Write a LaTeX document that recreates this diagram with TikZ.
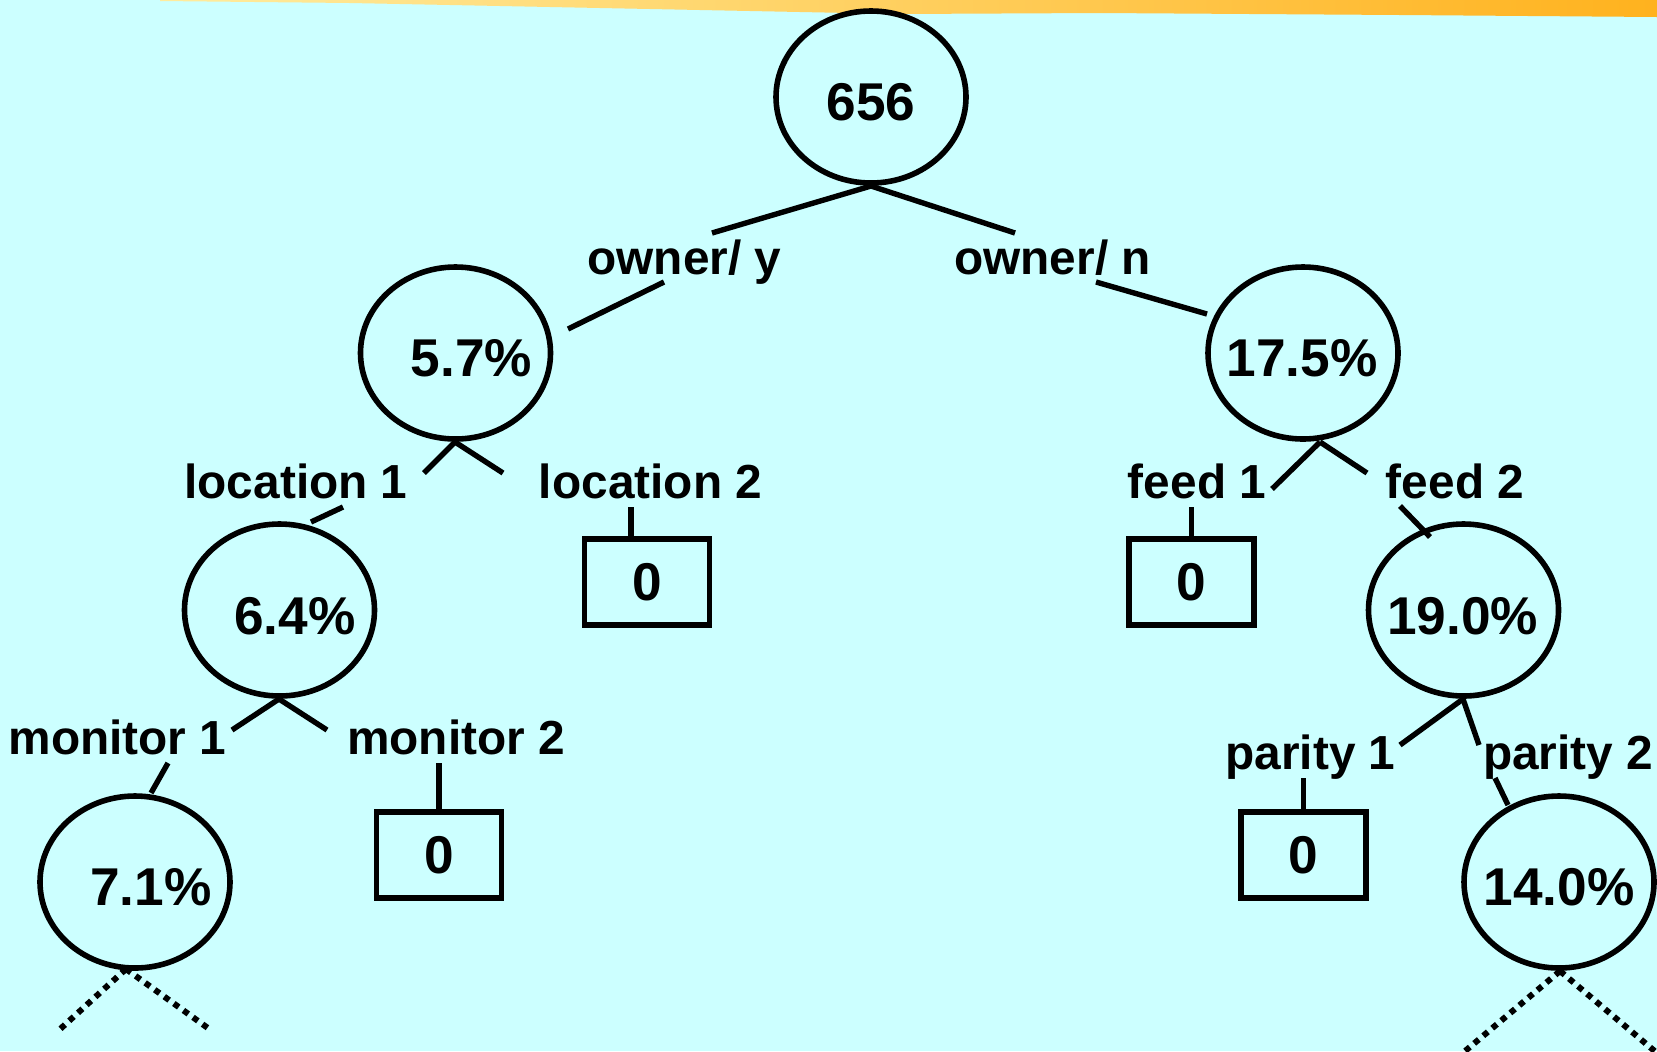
\documentclass[tikz,border=0pt]{standalone}
\usepackage{fontspec}
\setmainfont{Liberation Sans}
\usetikzlibrary{shapes.geometric}
\definecolor{bg}{HTML}{CCFFFF}
\definecolor{bandA}{HTML}{FFEC9E}
\definecolor{bandB}{HTML}{FFCC33}
\definecolor{bandC}{HTML}{FFB21E}
\begin{document}
\begin{tikzpicture}[x=0.5pt,y=-0.5pt,
  ell/.style={draw, ellipse, line width=2.8pt, minimum width=95pt, minimum height=86pt, inner sep=0pt, outer sep=0pt},
  leaf/.style={draw, rectangle, line width=2.8pt, minimum width=62.5pt, minimum height=43pt, inner sep=0pt, outer sep=0pt, font=\fontsize{26.6pt}{30pt}\selectfont\bfseries},
  val/.style={anchor=base, inner sep=0pt, font=\fontsize{26.6pt}{30pt}\selectfont\bfseries},
  lbl/.style={anchor=base, inner sep=0pt, font=\fontsize{23.9pt}{28pt}\selectfont\bfseries},
  edge/.style={line width=2.7pt, line cap=butt},
  dots/.style={line width=3pt, line cap=butt, dash pattern=on 3pt off 2.9pt}
]
\useasboundingbox (0,0) rectangle (1657,1051);
\fill[bg] (0,0) rectangle (1657,1051);
\shade[left color=bandA, middle color=bandB, right color=bandC]
  (160,0) -- (1657,0) -- (1657,17) -- (1400,15) -- (1100,13) -- (900,14) -- (700,10) -- (500,6) -- (350,3) -- (160,1) -- cycle;

% ellipses
\node[ell] (e656) at (871,97) {};
\node[ell] (e57) at (455.5,353) {};
\node[ell] (e175) at (1303,353) {};
\node[ell] (e64) at (279.5,610) {};
\node[ell] (e190) at (1463.5,610) {};
\node[ell] (e71) at (135,882) {};
\node[ell] (e140) at (1559,882) {};

% values
\node[val] (t656) at (871,120.5) {656};
\node[val] (t57) at (471.5,376.5) {5.7\%};
\node[val] (t175) at (1302,376.5) {17.5\%};
\node[val] (t64) at (295,634) {6.4\%};
\node[val] (t190) at (1462.5,634) {19.0\%};
\node[val] (t71) at (151,905.5) {7.1\%};
\node[val] (t140) at (1559,905.5) {14.0\%};

% leaf boxes
\node[leaf] (bl2) at (647,582) {0};
\node[leaf] (bf1) at (1191.5,582) {0};
\node[leaf] (bm2) at (439,855) {0};
\node[leaf] (bp1) at (1303.5,855) {0};

% labels
\node[lbl] (loy) at (684.5,274) {owner/ y};
\node[lbl] (lon) at (1052.5,274) {owner/ n};
\node[lbl] (ll1) at (296,498) {location 1};
\node[lbl] (ll2) at (650.5,498) {location 2};
\node[lbl] (lf1) at (1197,498) {feed 1};
\node[lbl] (lf2) at (1455,498) {feed 2};
\node[lbl] (lm1) at (117.5,754) {monitor 1};
\node[lbl] (lm2) at (456,754) {monitor 2};
\node[lbl] (lp1) at (1310.5,769) {parity 1};
\node[lbl] (lp2) at (1568,769) {parity 2};

% connector end points
\coordinate (r0) at (871,186);
\coordinate (oy1) at (712,233);
\coordinate (on1) at (1015,233);
\coordinate (oy2) at (664,282);
\coordinate (oy3) at (568,329);
\coordinate (on2) at (1096,282);
\coordinate (on3) at (1207,314);
\coordinate (b0) at (455,442);
\coordinate (l1a) at (424,473);
\coordinate (l2a) at (503,473);
\coordinate (l1b) at (343,507);
\coordinate (l1c) at (311,522);
\coordinate (l2b) at (631,507);
\coordinate (c0) at (1320,442);
\coordinate (f1a) at (1272,489);
\coordinate (f2a) at (1367,473);
\coordinate (f1b) at (1191.5,507);
\coordinate (f2b) at (1400,506);
\coordinate (f2c) at (1430,537);
\coordinate (d0) at (279,699);
\coordinate (m1a) at (232,730);
\coordinate (m2a) at (327,730);
\coordinate (m1b) at (168,763);
\coordinate (m1c) at (151,793);
\coordinate (m2b) at (439,763);
\coordinate (g0) at (1463,699);
\coordinate (p1a) at (1400,745);
\coordinate (p2a) at (1479,745);
\coordinate (p1b) at (1303.5,778);
\coordinate (p2b) at (1495,778);
\coordinate (p2c) at (1508,805);
\coordinate (k0) at (126,969);
\coordinate (k1) at (58,1031);
\coordinate (k2) at (212,1031);
\coordinate (h0) at (1560,971);
\coordinate (h1) at (1458,1057);
\coordinate (h2) at (1664,1059);

% connectors
\draw[edge] (r0) -- (oy1);
\draw[edge] (r0) -- (on1);
\draw[edge] (oy2) -- (oy3);
\draw[edge] (on2) -- (on3);
\draw[edge] (b0) -- (l1a);
\draw[edge] (b0) -- (l2a);
\draw[edge] (l1b) -- (l1c);
\draw[edge] (l2b) -- (l2b |- bl2.north);
\draw[edge] (c0) -- (f1a);
\draw[edge] (c0) -- (f2a);
\draw[edge] (f1b) -- (bf1.north);
\draw[edge] (f2b) -- (f2c);
\draw[edge] (d0) -- (m1a);
\draw[edge] (d0) -- (m2a);
\draw[edge] (m1b) -- (m1c);
\draw[edge] (m2b) -- (bm2.north);
\draw[edge] (g0) -- (p1a);
\draw[edge] (g0) -- (p2a);
\draw[edge] (p1b) -- (bp1.north);
\draw[edge] (p2b) -- (p2c);
\draw[dots] (k0) -- (k1);
\draw[dots] (k0) -- (k2);
\draw[dots] (h0) -- (h1);
\draw[dots] (h0) -- (h2);
\end{tikzpicture}
\end{document}
